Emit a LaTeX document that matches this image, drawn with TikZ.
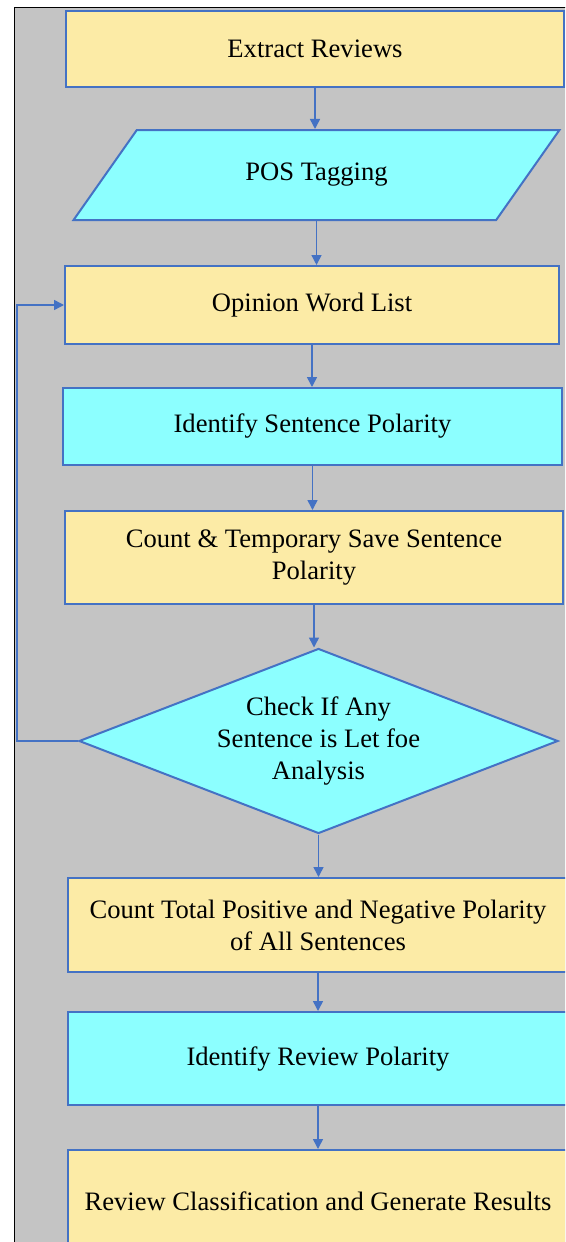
\documentclass[tikz,border=0pt]{standalone}
\usepackage{fontspec}
\setmainfont{Liberation Serif}
\usepackage{tikz}
\usetikzlibrary{shapes.geometric, arrows.meta, positioning, calc}

\definecolor{boxyellow}{RGB}{252,235,166}
\definecolor{boxcyan}{RGB}{140,255,255}
\definecolor{lineblue}{RGB}{68,114,196}
\definecolor{bggray}{RGB}{196,196,196}

\begin{document}
\begin{tikzpicture}[x=1pt, y=-1pt, font=\fontsize{26.6}{32}\selectfont,
    procbox/.style={draw=lineblue, line width=2pt, rectangle, align=center, inner sep=0pt},
    yellowbox/.style={procbox, fill=boxyellow},
    cyanbox/.style={procbox, fill=boxcyan},
    flow/.style={draw=lineblue, line width=1.5pt, -{Triangle[length=10pt, width=10pt]}}]

    % Page frame (picture is cut at the right and bottom)
    \clip (0,0) rectangle (565,1242);
    \draw[black, line width=1pt, fill=bggray] (14,7) rectangle (620,1300);

    % Steps, top to bottom
    \node[yellowbox, minimum width=498pt, minimum height=76pt] (extract) at (315,49) {Extract Reviews};
    \node[draw=lineblue, line width=2pt, fill=boxcyan, trapezium, trapezium left angle=43, trapezium right angle=137,
          trapezium stretches=true, minimum width=487pt, minimum height=90pt, inner sep=0pt] (pos) at (316.5,175) {POS Tagging};
    \node[yellowbox, minimum width=494pt, minimum height=78pt] (opinion) at (312,305) {Opinion Word List};
    \node[cyanbox, minimum width=499pt, minimum height=77pt] (sentpol) at (312.5,426.5) {Identify Sentence Polarity};
    \node[yellowbox, minimum width=498pt, minimum height=93pt] (countsave) at (314,557.5) {Count \& Temporary Save Sentence\\Polarity};

    % Decision
    \node[draw=lineblue, line width=2pt, fill=boxcyan, diamond, aspect=2.59, inner sep=0pt,
          minimum width=479pt, minimum height=185pt, align=center] (check) at (318.5,741) {Check If Any\\Sentence is Let foe\\Analysis};

    \node[yellowbox, minimum width=500pt, minimum height=94pt] (counttotal) at (318,925) {Count Total Positive and Negative Polarity\\of All Sentences};
    \node[cyanbox, minimum width=500pt, minimum height=93pt] (revpol) at (318,1058.5) {Identify Review Polarity};
    \node[yellowbox, minimum width=500pt, minimum height=102pt] (classify) at (318,1201) {Review Classification and Generate Results};

    % Connectors
    \draw[flow] (extract.south) -- (extract.south |- pos.north);
    \draw[flow] (pos.south) -- (pos.south |- opinion.north);
    \draw[flow] (opinion.south) -- (opinion.south |- sentpol.north);
    \draw[flow] (sentpol.south) -- (sentpol.south |- countsave.north);
    \draw[flow] (countsave.south) -- (countsave.south |- check.north);
    \draw[flow] (check.south) -- (check.south |- counttotal.north);
    \draw[flow] (counttotal.south) -- (counttotal.south |- revpol.north);
    \draw[flow] (revpol.south) -- (revpol.south |- classify.north);

    % Loop back for the next sentence
    \coordinate (loop) at (17,741);
    \draw[flow] (check.west) -- (loop) |- (opinion.west);

\end{tikzpicture}
\end{document}
